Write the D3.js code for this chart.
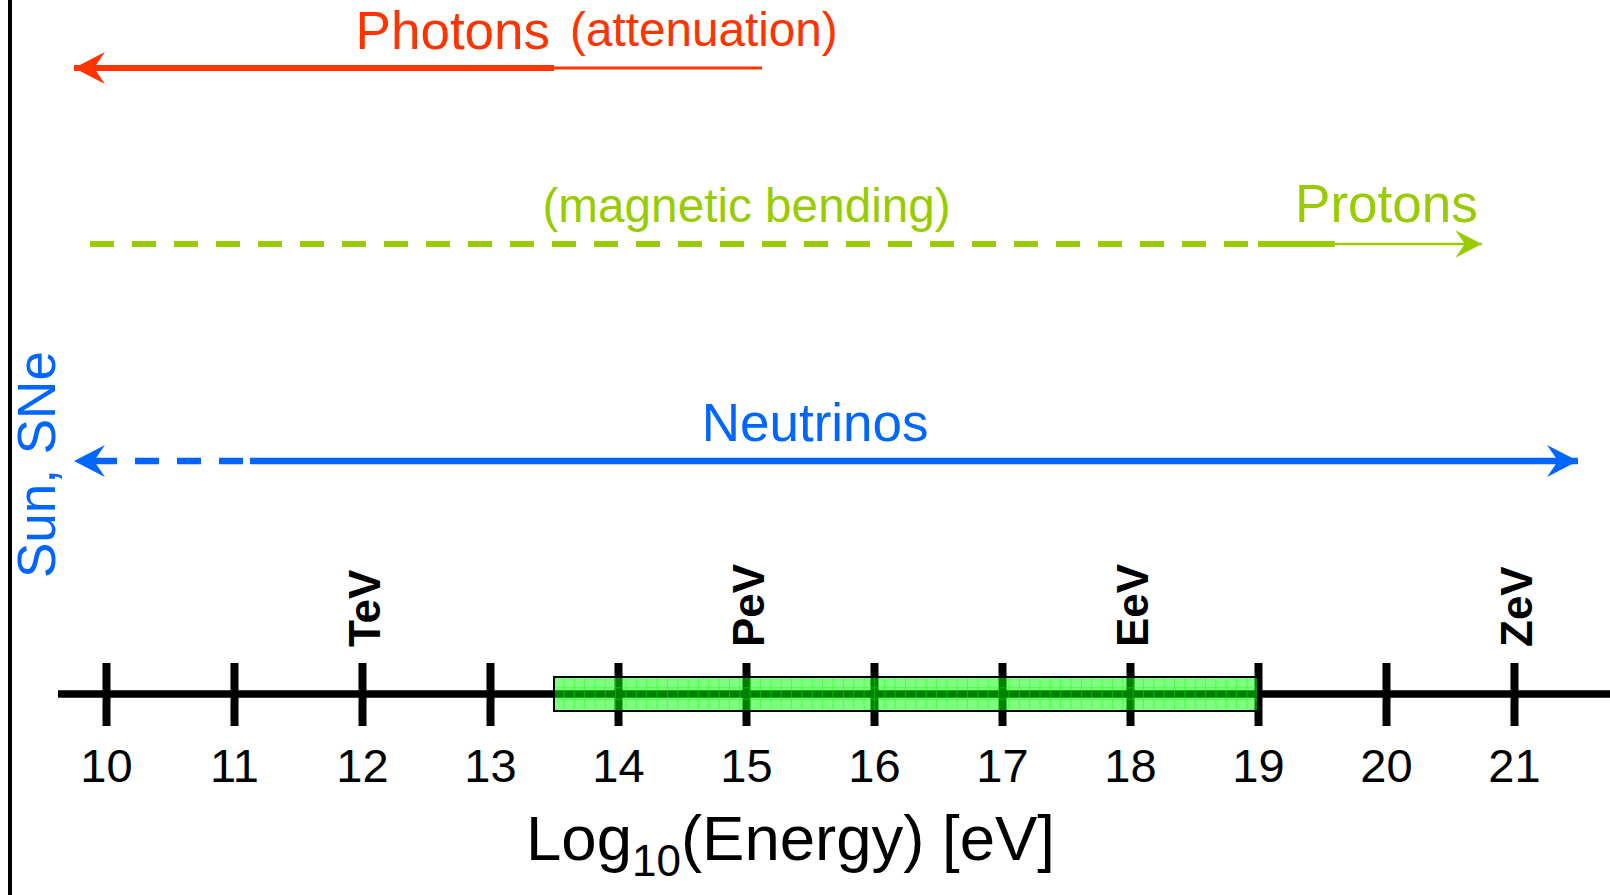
<!DOCTYPE html>
<html>
<head>
<meta charset="utf-8">
<script src="https://cdn.jsdelivr.net/npm/d3@7"></script>
<style>
  body { margin: 0; background: #fff; }
  svg { display: block; }
</style>
</head>
<body>
<svg id="chart"></svg>
<script>
// ---- data ----
const tickValues = [10, 11, 12, 13, 14, 15, 16, 17, 18, 19, 20, 21];
const unitNames = ["TeV", "PeV", "EeV", "ZeV"];
const unitEnergies = [12, 15, 18, 21];
const detectorRange = [13.5, 19];

const messengers = ["Photons", "Protons", "Neutrinos"];
// segments: [from, to, style] in log10(E/eV)
const photonSegments = [[9.75, 13.5, "thick"], [13.5, 15.125, "thin"]];
const protonSegments = [[9.875, 19.0, "dashed"], [19.0, 19.6, "thick"], [19.6, 20.75, "thin"]];
const neutrinoSegments = [[9.75, 11.125, "dashed"], [11.125, 21.5, "thick"]];
const photonTips = [9.75];
const protonTips = [20.75];
const neutrinoTips = [9.75, 21.5];
// labels: [text, energy where text starts/centres, kind]
const photonLabels = [["Photons", 11.95, "main"], ["(attenuation)", 13.625, "note"]];
const protonLabels = [["(magnetic bending)", 13.41, "note"], ["Protons", 19.29, "main"]];
const neutrinoLabels = [["Neutrinos", 15.54, "centre"]];
const sideLabel = "Sun, SNe";
const axisTitle = ["Log", "10", "(Energy) [eV]"];

// ---- layout ----
const W = 1610, H = 895;
const FONT = '"Liberation Sans", Arial, Helvetica, sans-serif';
const axisY = 694;
const rowY = { Photons: 68, Protons: 244, Neutrinos: 461 };
const colors = { Photons: "#ff3300", Protons: "#99cc00", Neutrinos: "#0066ff" };
const widths = {
  Photons: { thick: 6, thin: 3, dashed: 6 },
  Protons: { thick: 6, thin: 2.5, dashed: 6 },
  Neutrinos: { thick: 6.5, thin: 3, dashed: 6.5 }
};
const headScale = { Photons: 1, Protons: 0.86, Neutrinos: 1 };
const labelDy = {
  Photons: { main: -19, note: -22 },
  Protons: { main: -22, note: -22 },
  Neutrinos: { centre: -20 }
};

const svg = d3.select("#chart").attr("width", W).attr("height", H);
const x = d3.scaleLinear().domain([10, 21]).range([106, 1514]);

// left frame line
svg.append("line")
  .attr("x1", 10).attr("x2", 10).attr("y1", 0).attr("y2", H)
  .attr("stroke", "#000").attr("stroke-width", 4);

// ---- axis ----
svg.append("line")
  .attr("x1", 58).attr("x2", W).attr("y1", axisY).attr("y2", axisY)
  .attr("stroke", "#000").attr("stroke-width", 7.5);

const gAxis = svg.append("g")
  .attr("transform", "translate(0," + axisY + ")")
  .call(d3.axisBottom(x).tickValues(tickValues).tickSize(32).tickFormat(d3.format("d")));
gAxis.select(".domain").remove();
gAxis.selectAll(".tick line")
  .attr("y1", -31).attr("stroke", "#000").attr("stroke-width", 8);
gAxis.selectAll(".tick text")
  .attr("y", 88).attr("dy", null)
  .attr("fill", "#000").attr("font-family", FONT).attr("font-size", 47);

// unit names above the axis
svg.selectAll("text.unit").data(unitNames).enter().append("text")
  .attr("class", "unit")
  .attr("transform", (d, i) => "translate(" + (x(unitEnergies[i]) + 18) + ",647) rotate(-90)")
  .attr("font-family", FONT).attr("font-weight", "bold").attr("font-size", 44)
  .attr("fill", "#000")
  .text(d => d);

// detector box (semi-transparent, gridded)
const defs = svg.append("defs");
const pat = defs.append("pattern")
  .attr("id", "grid").attr("patternUnits", "userSpaceOnUse")
  .attr("x", x(detectorRange[0])).attr("y", axisY - 17)
  .attr("width", 10.35).attr("height", 11.33);
pat.append("path")
  .attr("d", "M10.35,0V11.33M0,11.33H10.35")
  .attr("stroke", "rgba(0,255,0,0.65)").attr("stroke-width", 1.3).attr("fill", "none");

svg.append("rect")
  .attr("x", x(detectorRange[0])).attr("y", axisY - 17)
  .attr("width", x(detectorRange[1]) - x(detectorRange[0])).attr("height", 34)
  .attr("fill", "rgba(0,255,0,0.5)");
svg.append("rect")
  .attr("x", x(detectorRange[0])).attr("y", axisY - 17)
  .attr("width", x(detectorRange[1]) - x(detectorRange[0])).attr("height", 34)
  .attr("fill", "url(#grid)").attr("stroke", "#000").attr("stroke-width", 2);

// axis title
const title = svg.append("text")
  .attr("x", 526).attr("y", 860)
  .attr("font-family", FONT).attr("font-size", 63.5).attr("fill", "#000");
title.append("tspan").text(axisTitle[0]);
title.append("tspan").attr("dy", 16).attr("font-size", 44).text(axisTitle[1]);
title.append("tspan").attr("dy", -16).text(axisTitle[2]);

// ---- messenger arrows ----
const segmentsOf = { Photons: photonSegments, Protons: protonSegments, Neutrinos: neutrinoSegments };
const tipsOf = { Photons: photonTips, Protons: protonTips, Neutrinos: neutrinoTips };
const labelsOf = { Photons: photonLabels, Protons: protonLabels, Neutrinos: neutrinoLabels };

messengers.forEach(m => {
  const y = rowY[m];
  const col = colors[m];
  const g = svg.append("g");
  const segs = segmentsOf[m];
  const tips = tipsOf[m];
  const lo = d3.min(segs, s => s[0]);
  const notch = 19 * headScale[m];

  g.selectAll("line").data(segs).enter().append("line")
    .attr("x1", s => {
      // dashed lines starting at an arrow tip begin at the arrow's notch
      if (s[2] === "dashed" && tips.includes(s[0])) return x(s[0]) + notch;
      return x(s[0]);
    })
    .attr("x2", s => x(s[1]))
    .attr("y1", y).attr("y2", y)
    .attr("stroke", col)
    .attr("stroke-width", s => widths[m][s[2]])
    .attr("stroke-dasharray", s => s[2] === "dashed" ? "24,18" : null);

  g.selectAll("path").data(tips).enter().append("path")
    .attr("transform", t => {
      const dir = t <= lo ? 180 : 0;
      return "translate(" + x(t) + "," + y + ") rotate(" + dir + ") scale(" + headScale[m] + ")";
    })
    .attr("d", "M0,0L-31,-16L-20,0L-31,16Z")
    .attr("fill", col);

  g.selectAll("text").data(labelsOf[m]).enter().append("text")
    .attr("x", l => x(l[1]))
    .attr("y", l => y + labelDy[m][l[2]])
    .attr("text-anchor", l => l[2] === "centre" ? "middle" : "start")
    .attr("font-family", FONT)
    .attr("font-size", l => l[2] === "note" ? 47.7 : 53)
    .attr("fill", col)
    .text(l => l[0]);
});

// side label
svg.append("text")
  .attr("transform", "translate(55,578) rotate(-90)")
  .attr("font-family", FONT).attr("font-size", 53)
  .attr("fill", colors.Neutrinos)
  .text(sideLabel);
</script>
</body>
</html>
